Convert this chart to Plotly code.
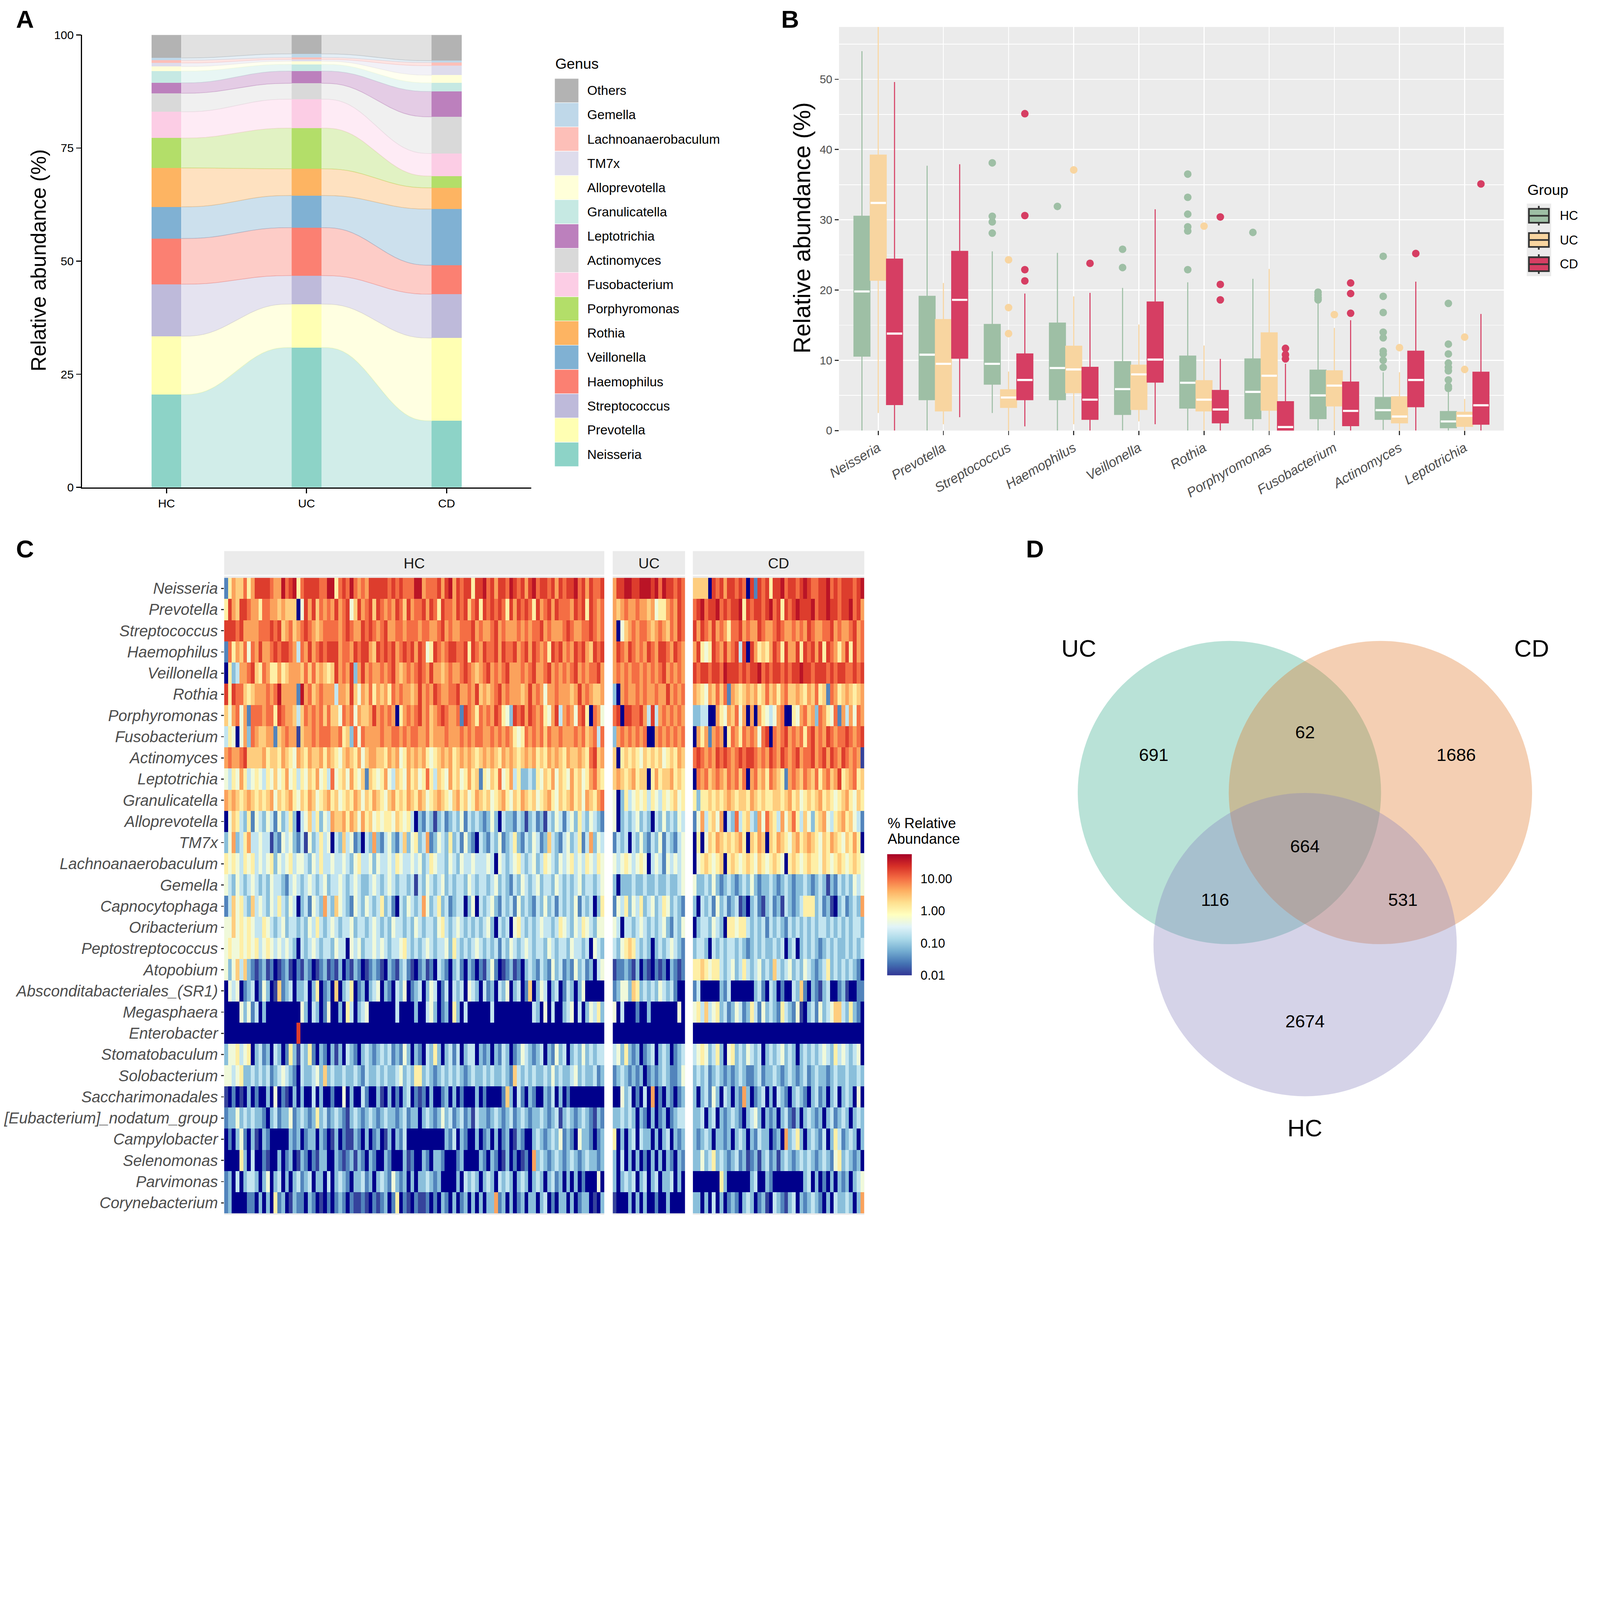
import numpy as np
import plotly.graph_objects as go

W, H = 7607, 5851
FONT = "Liberation Sans, Arial, Helvetica, sans-serif"
NAVY = "#00008B"


def fx(x):
    return x / W


def fy(y):
    return 1 - y / H


def rgba(hex_color, alpha):
    h = hex_color.lstrip("#")
    return f"rgba({int(h[0:2], 16)},{int(h[2:4], 16)},{int(h[4:6], 16)},{alpha})"


# ---------------- panel A : mean relative abundance per group ----------------
groups = ["HC", "UC", "CD"]
genera_a = ["Neisseria", "Prevotella", "Streptococcus", "Haemophilus", "Veillonella",
            "Rothia", "Porphyromonas", "Fusobacterium", "Actinomyces", "Leptotrichia",
            "Granulicatella", "Alloprevotella", "TM7x", "Lachnoanaerobaculum", "Gemella", "Others"]
abund_hc = [20.5, 12.9, 11.5, 10.1, 7.0, 8.6, 6.6, 5.8, 4.1, 2.3, 2.6, 1.0, 0.8, 0.6, 0.5, 5.1]
abund_uc = [30.9, 9.6, 6.3, 10.6, 7.1, 5.9, 9.0, 6.4, 3.5, 2.7, 1.5, 0.7, 0.4, 0.4, 0.8, 4.2]
abund_cd = [14.7, 18.3, 9.7, 6.4, 12.4, 4.7, 2.6, 5.0, 8.1, 5.6, 1.9, 1.7, 2.1, 0.7, 0.4, 5.7]
colors_a = ["#8DD3C7", "#FFFFB3", "#BEBADA", "#FB8072", "#80B1D3", "#FDB462", "#B3DE69",
            "#FCCDE5", "#D9D9D9", "#BC80BD", "#C6E9E3", "#FFFFD9", "#DEDCEC", "#FDBFB8",
            "#BFD8E9", "#B3B3B3"]

# ---------------- panel B : boxplots of top 10 genera ----------------
genera_b = ["Neisseria", "Prevotella", "Streptococcus", "Haemophilus", "Veillonella",
            "Rothia", "Porphyromonas", "Fusobacterium", "Actinomyces", "Leptotrichia"]
colors_b = {"HC": "#9EBFA5", "UC": "#F8D5A0", "CD": "#D63E63"}

q1_hc = [10.6, 4.4, 6.6, 4.4, 2.3, 3.2, 1.7, 1.7, 1.6, 0.4]
med_hc = [19.8, 10.8, 9.5, 8.9, 5.9, 6.8, 5.5, 5.0, 2.9, 1.3]
q3_hc = [30.5, 19.1, 15.1, 15.3, 9.8, 10.6, 10.2, 8.6, 4.7, 2.7]
lo_hc = [0.0, 0.0, 2.5, 0.0, 0.0, 0.0, 0.0, 0.0, 0.1, 0.0]
hi_hc = [54.0, 37.7, 25.5, 25.3, 20.3, 21.1, 21.6, 18.2, 8.3, 5.8]
out_hc = [[], [], [38.1, 30.5, 29.7, 28.1], [31.9], [25.8, 23.2],
          [36.5, 33.2, 30.8, 29.0, 28.4, 22.9], [28.2], [19.7, 19.3, 18.9, 18.6],
          [24.8, 19.1, 16.8, 14.0, 13.2, 11.3, 10.9, 10.0, 9.0],
          [18.1, 12.3, 10.9, 9.6, 9.0, 8.5, 7.2, 6.3, 6.0]]

q1_uc = [21.4, 2.8, 3.3, 5.4, 3.0, 2.8, 2.9, 3.5, 1.1, 0.6]
med_uc = [32.4, 9.5, 4.7, 8.7, 8.0, 4.4, 7.8, 6.4, 2.0, 2.1]
q3_uc = [39.2, 15.8, 5.8, 12.0, 9.3, 7.1, 13.9, 8.5, 4.8, 2.6]
lo_uc = [2.5, 0.9, 0.0, 0.9, 1.3, 0.0, 0.0, 0.0, 0.0, 0.0]
hi_uc = [57.45, 21.0, 8.4, 19.1, 15.1, 12.1, 23.0, 14.6, 8.3, 4.5]
out_uc = [[], [], [24.3, 17.5, 13.8], [37.1], [], [29.1], [], [16.5], [11.8], [13.3, 8.7]]

q1_cd = [3.7, 10.3, 4.4, 1.6, 6.9, 1.1, 0.0, 0.7, 3.4, 0.9]
med_cd = [13.8, 18.6, 7.2, 4.4, 10.1, 3.0, 0.5, 2.8, 7.2, 3.6]
q3_cd = [24.4, 25.5, 10.9, 9.0, 18.3, 5.7, 4.1, 6.9, 11.3, 8.3]
lo_cd = [0.0, 1.9, 0.6, 0.0, 0.9, 0.0, 0.0, 0.0, 0.0, 0.0]
hi_cd = [49.6, 37.9, 19.5, 19.6, 31.5, 10.2, 9.5, 15.7, 21.2, 16.6]
out_cd = [[], [], [45.1, 30.6, 22.9, 21.3], [23.8], [], [30.4, 20.8, 18.6],
          [11.7, 10.8, 10.2], [21.0, 19.5, 16.7], [25.2], [35.1]]

# ---------------- panel C : per-sample heatmap ----------------
heat_genera = ["Neisseria", "Prevotella", "Streptococcus", "Haemophilus", "Veillonella",
               "Rothia", "Porphyromonas", "Fusobacterium", "Actinomyces", "Leptotrichia",
               "Granulicatella", "Alloprevotella", "TM7x", "Lachnoanaerobaculum", "Gemella",
               "Capnocytophaga", "Oribacterium", "Peptostreptococcus", "Atopobium",
               "Absconditabacteriales_(SR1)", "Megasphaera", "Enterobacter", "Stomatobaculum",
               "Solobacterium", "Saccharimonadales", "[Eubacterium]_nodatum_group",
               "Campylobacter", "Selenomonas", "Parvimonas", "Corynebacterium"]
# each character is one sample, read as an abundance level (% relative abundance)
level_value = {"0": 0.0, "1": 0.012, "2": 0.03, "3": 0.08, "4": 0.2, "5": 0.5, "6": 1.2,
               "7": 2.5, "8": 5.0, "9": 10.0, "a": 20.0, "b": 40.0}

heat_hc = [
    "26877968aa aa988b9ab6 9aaaa99bb6 9a9b9898aa aaa9a9a999 bb8999a8ab 8a9aa6aab9 a8aa9ba9a8 ab9aa9a8a9 aab9a8a99a",
    "6a87aa9886 9988787770 5a8a79898a 89a57a89a7 a9898a97a8 99a8a96a99 8a9a79a6a9 a9a96a8a9a 96a89a8a99 98a9a6a989",
    "aaa9a88889 99a9a78978 9a98789999 89a988a9a9 89a8899899 9899889a89 88999a8988 9a89888989 899a898889 a98899a989",
    "296879598a 889a9aa984 98a89a9aaa 8998a9aa87 a9a9a89a9a 8a956a989a a99a6a98a9 9a8a99a89a 8a9896a9a8 98a9a87a9a",
    "0634889a76 9866867888 797978767a 898a38a898 8989a87898 9a98a88789 889a98789a 8989a88898 9a889a8989 89a89899a8",
    "a6a9976788 8989b88882 b897898884 887a758796 8786989887 8a898a9889 9a8898a787 89a8988878 a898588988 878a898778",
    "7589582999 8996a98874 7989897977 598958778a 8989806898 9a89789a98 892a986989 8a9653a9a8 a989658a48 9859a60985",
    "4650583987 7882789881 7889899988 9673959888 8988998989 9889788898 8898989988 9898986569 8989798898 8898978949",
    "89889a7777 8677687658 7687786876 5787685788 7768785687 8786567878 6787876787 8768787678 7867687876 8778769a78",
    "5465864565 4657568564 6576856495 6758657276 5685476586 7569647658 6756867265 7695684633 4365768576 5867568976",
    "8787678767 6785767865 7687567867 5676875768 7657867687 6875678765 7867568767 5678657687 6756786576 7867587689",
    "0576436254 3542534630 4574635487 7868758675 6566576564 0324313423 4352434323 5304332431 3423143542 4536435432",
    "3583468445 4413254532 4153464504 3745230438 3245324735 6348235436 3425320432 4352346324 3542374324 5346248354",
    "6565465645 4563545645 5435464454 4543564453 5445465445 4534654435 4354454445 4054345643 4534654354 5645465465",
    "5435434543 4354432454 3454345344 5434543345 4345434434 1435434534 3443543443 4534324354 3453443543 4345344345",
    "2475643745 4354643540 3425438437 5432543543 4634204354 3485346342 3440350434 5324342534 3243534243 4352434036",
    "5575656544 6543453443 4354643454 3445344345 4343544343 5434435643 4543434345 3043405643 4345443465 4354654355",
    "5655656564 5654545430 4345434435 4405453445 4543445643 4345434453 6434345434 3424354345 4344354344 3544340543",
    "5357473212 3120123102 1320123121 3021320123 2103213421 0231204320 3420320213 5201231203 4324325342 3253423045",
    "0545023402 5301723403 3403602307 0346023034 5032043502 3403540240 4340543042 3043503402 7035403402 4303500000",
    "0000535240 3000000000 5304302500 3064034500 0000040000 3004530230 6304000000 4000000000 0430504003 4504035463",
    "0000000000 000000000a 0000000000 0000000000 0000000000 0000000000 0000000000 0000000000 0000000000 0000000000",
    "3556456034 2304302631 4362032031 3043203432 3434232530 3204363034 2403440323 0324302354 3234032534 0343534344",
    "5545633434 3423454320 4334537343 3433432433 4343345343 6634323434 3432343343 4334327434 3433435343 3453433423",
    "1020103020 0305021030 3004030020 0503004200 3103020340 2120300230 3020003020 0002730420 3200324030 2000000000",
    "2335343433 2034233523 4323634234 3213432343 2343323423 3034323534 2342314332 3432342343 2334323413 4323432132",
    "0203520310 3200000323 0233032013 0211320302 3013032400 0000000032 4032003023 0302301320 0343234352 3205332023",
    "0000630400 2100302301 3202133003 2123132032 0032000312 0032033200 0230000320 3201302012 0834323432 3432343323",
    "2304034430 3503403034 2340330403 4320334230 3432532303 0334323000 0304343034 3043430343 0343034230 3030200050",
    "2300002203 0306230132 2032010202 3202112102 1230260210 2112020320 3023030303 3823030230 3303402033 0302330103",
]
heat_uc = [
    "8aabbaabbb ab9baa9a9", "8789889887 8566898a9", "8057898998 7898798a9", "8a98a9898a 98aa98a98",
    "8989899898 989a89898", "3089889898 8988a8989", "9a0aa99a84 a48989898", "3898989890 089898989",
    "7067676576 767567687", "7876786770 686778676", "5036456564 654656756", "5034345343 043534354",
    "2434043532 435243245", "5456545650 454254545", "3033343343 343343345", "2546354634 534653432",
    "5404434543 434532435", "4356764343 034345432", "1223213021 021203212", "2355376343 435434200",
    "5040002003 000000050", "0000000000 000000000", "4536323023 403430234", "2343232302 323432235",
    "0053402040 802032023", "3343430320 302302344", "6030340433 030340323", "3040303020 303032032",
    "3034340340 340334030", "1000303030 020030000",
]
heat_cd = [
    "77770a9a8a a9a90a2a9a 6aab9aa9ab a99aab9a9a aa9ab",
    "9ab9aab9a9 aab6a9aa9a b9a6a9abaa ab9aabaa9a ab9a8",
    "a8a98a8986 99a8988a98 89a9889898 a98899a898 89a89",
    "8a656a98a8 9a4a0a8676 8a96a88a6a 9a8a6a9868 a6a89",
    "a9aa9aa9ba aa9a9aab9a 9aa9a9aaba a9aaa9a9aa 99a9a",
    "8765879792 8767878679 7868977876 8796729867 87678",
    "3344008658 7958080865 4589006589 7839865928 48598",
    "0868289806 986989859a 0989a89896 9a898a9899 a989a",
    "9a9898a9a9 89a9aa9898 a98a989a89 9a89a8a98a 98981",
    "0989789879 8979089786 9876289879 87968978a6 78967",
    "6366767678 7677687676 6776786756 7678676567 86576",
    "2584675804 3946743859 7648579647 5367854678 67542",
    "0605768767 6786076870 7687657867 8765768765 76860",
    "0567656706 7656765765 6765067656 7665765676 56765",
    "5334353234 3234353233 4323432334 3234313243 43545",
    "3043425342 3412034213 4231432346 6634231034 23438",
    "0344354306 6566434342 4343243434 3434434343 43443",
    "3443043434 4343234343 3434034034 3432343433 43434",
    "6676566434 5346434534 3743453435 4323463434 34320",
    "2400000324 0000003420 4302004372 0321340023 10022",
    "5647456342 3542364253 4326432510 3425345774 36320",
    "0000000000 0000000000 0000000000 0000000000 00000",
    "4565346305 6343543403 4345343034 3434543645 43450",
    "3434234323 2343223423 3432343234 2343323433 43343",
    "3034253043 0328302340 3043203432 0342303403 43050",
    "3340340323 4320345303 2303421303 4323034234 30343",
    "3234303323 0343032433 0230834630 3432403642 34303",
    "3353463432 3423123134 2313432343 4323432563 43230",
    "0000000630 0000034003 2000000003 4030203032 30345",
    "3303040302 3203430231 0432134032 3432030433 43038",
]
heat_scale = ["#313695", "#4575B4", "#74ADD1", "#ABD9E9", "#E0F3F8", "#FFFFBF",
              "#FEE090", "#FDAE61", "#F46D43", "#D73027", "#A50026"]
heat_ticks = [-2, -1, 0, 1]
heat_ticktext = ["0.01", "0.10", "1.00", "10.00"]
HEAT_MIN, HEAT_MAX = -2, 1.76

# ---------------- panel D : Venn diagram of ASVs ----------------
venn_sets = ["UC", "CD", "HC"]
venn_regions = ["UC only", "UC & CD", "CD only", "all", "UC & HC", "CD & HC", "HC only"]
venn_counts = [691, 62, 1686, 664, 116, 531, 2674]

# ============================================================================
fig = go.Figure()
ann = []
shapes = []


def text(x, y, s, size, color="black", xanchor="center", yanchor="middle", angle=0):
    ann.append(dict(x=fx(x), y=fy(y), xref="paper", yref="paper", text=s, showarrow=False,
                    xanchor=xanchor, yanchor=yanchor, textangle=angle,
                    font=dict(family=FONT, size=size, color=color)))


def rect(x0, y0, x1, y1, fill, line_color=None, line_width=0, layer="above"):
    shapes.append(dict(type="rect", xref="paper", yref="paper", x0=fx(x0), x1=fx(x1),
                       y0=fy(y1), y1=fy(y0), fillcolor=fill, layer=layer,
                       line=dict(color=line_color or fill, width=line_width)))


def seg(x0, y0, x1, y1, color, width):
    shapes.append(dict(type="line", xref="paper", yref="paper", x0=fx(x0), x1=fx(x1),
                       y0=fy(y0), y1=fy(y1), line=dict(color=color, width=width)))


# ---- panel A: alluvial flows + stacked bars
abund = [np.array(abund_hc), np.array(abund_uc), np.array(abund_cd)]
tops = [np.cumsum(a) for a in abund]
bots = [t - a for t, a in zip(tops, abund)]
BW = 0.213
tt = np.linspace(0, 1, 90)
ss = tt ** 3 * (tt * (6 * tt - 15) + 10)
for k, name in enumerate(genera_a):
    for j in range(2):
        xa, xb = j + 1 + BW / 2, j + 2 - BW / 2
        xs = xa + (xb - xa) * tt
        lo = bots[j][k] + (bots[j + 1][k] - bots[j][k]) * ss
        hi = tops[j][k] + (tops[j + 1][k] - tops[j][k]) * ss
        fig.add_trace(go.Scatter(
            x=np.concatenate([xs, xs[::-1]]), y=np.concatenate([lo, hi[::-1]]),
            mode="lines", fill="toself", fillcolor=rgba(colors_a[k], 0.4),
            line=dict(color=rgba(colors_a[k], 0.45), width=3),
            xaxis="x", yaxis="y", hoverinfo="skip", showlegend=False))
for k, name in enumerate(genera_a):
    fig.add_trace(go.Bar(x=[1, 2, 3], y=[abund[0][k], abund[1][k], abund[2][k]], width=BW,
                         marker=dict(color=colors_a[k], line=dict(width=0)),
                         xaxis="x", yaxis="y", hoverinfo="skip", showlegend=False, name=name))

# legend A (drawn by hand to keep ggplot-sized keys)
text(2638, 302, "Genus", 70, xanchor="left")
for i, k in enumerate(range(len(genera_a) - 1, -1, -1)):
    top = 373 + i * 115.3
    rect(2637, top, 2751, top + 115.3, colors_a[k], "white", 2)
    text(2790, top + 57.6, genera_a[k], 62, xanchor="left")

text(184, 1238, "Relative abundance (%)", 99, angle=-90)

# ---- panel B: boxplots
box_sets = {
    "HC": (q1_hc, med_hc, q3_hc, lo_hc, hi_hc, out_hc, -0.25),
    "UC": (q1_uc, med_uc, q3_uc, lo_uc, hi_uc, out_uc, 0.0),
    "CD": (q1_cd, med_cd, q3_cd, lo_cd, hi_cd, out_cd, 0.25),
}
for g, (q1, med, q3, lo, hi, outs, off) in box_sets.items():
    pos = [i + 1 + off for i in range(len(genera_b))]
    col = colors_b[g]
    fig.add_trace(go.Box(x=pos, q1=q1, median=med, q3=q3, lowerfence=lo, upperfence=hi,
                         width=0.245, fillcolor=col, line=dict(color=col, width=5),
                         whiskerwidth=0, boxpoints=False, xaxis="x2", yaxis="y2",
                         hoverinfo="skip", showlegend=False, name=g))
    mx, my = [], []
    for p, m in zip(pos, med):
        mx += [p - 0.118, p + 0.118, None]
        my += [m, m, None]
    fig.add_trace(go.Scatter(x=mx, y=my, mode="lines", line=dict(color="white", width=10),
                             xaxis="x2", yaxis="y2", hoverinfo="skip", showlegend=False))
    ox, oy = [], []
    for p, vals in zip(pos, outs):
        ox += [p] * len(vals)
        oy += vals
    fig.add_trace(go.Scatter(x=ox, y=oy, mode="markers",
                             marker=dict(color=col, size=36, line=dict(width=0)),
                             xaxis="x2", yaxis="y2", hoverinfo="skip", showlegend=False))

shapes.append(dict(type="rect", xref="x2 domain", yref="y2 domain", x0=0, x1=1, y0=0, y1=1,
                   fillcolor="#EBEBEB", line=dict(width=0), layer="below"))
text(3812, 1084, "Relative abundance (%)", 112, angle=-90)

# legend B
text(7260, 902, "Group", 70, xanchor="left")
rect(7259, 968, 7375, 1313, "#EBEBEB")
for j, g in enumerate(groups):
    top = 968 + j * 115
    seg(7316, top + 11, 7316, top + 104, "#333333", 8)
    rect(7269, top + 25, 7364, top + 91, colors_b[g], "#333333", 8)
    seg(7269, top + 58, 7364, top + 58, "#333333", 8)
    text(7414, top + 58, g, 60, xanchor="left")

# ---- panel C: heatmap (three facets)
def decode(rows, n):
    out = []
    for i, r in enumerate(rows):
        r = r.replace(" ", "")
        if len(r) != n:
            raise ValueError(f"heatmap row {i} has {len(r)} cells, expected {n}")
        out.append([level_value[c] for c in r])
    return np.array(out)


facets = [("HC", heat_hc, 100, "x3", 1066, 2873),
          ("UC", heat_uc, 19, "x4", 2913, 3257),
          ("CD", heat_cd, 45, "x5", 3294, 4109)]
rows_idx = list(range(len(heat_genera)))
for g, rows, n, xa, x0, x1 in facets:
    vals = decode(rows, n)
    zero = np.where(vals == 0, 1.0, np.nan)
    z = np.where(vals > 0, np.log10(np.where(vals > 0, vals, 1.0)), np.nan)
    fig.add_trace(go.Heatmap(z=zero, x=list(range(n)), y=rows_idx, zmin=0, zmax=1,
                             colorscale=[[0, NAVY], [1, NAVY]], showscale=False,
                             xaxis=xa, yaxis="y3", hoverinfo="skip"))
    fig.add_trace(go.Heatmap(z=z, x=list(range(n)), y=rows_idx, coloraxis="coloraxis",
                             xaxis=xa, yaxis="y3", hoverinfo="skip"))
    rect(x0, 2738, x1, 5776, "#EBEBEB", layer="below")
    rect(x0, 2620, x1, 2733, "#EBEBEB")
    text((x0 + x1) / 2, 2678, g, 70, color="#1A1A1A")

# colour bar: title and the white ggplot-style ticks drawn on top of the bar
CB_X0, CB_X1, CB_TOP, CB_BOT = 4218, 4335, 4061, 4637
text(CB_X0, 3913, "% Relative", 68, xanchor="left")
text(CB_X0, 3987, "Abundance", 68, xanchor="left")
for v in heat_ticks:
    yy = CB_BOT - (v - HEAT_MIN) / (HEAT_MAX - HEAT_MIN) * (CB_BOT - CB_TOP)
    seg(CB_X0, yy, CB_X0 + 23, yy, "white", 3)
    seg(CB_X1 - 23, yy, CB_X1, yy, "white", 3)

# ---- panel D: Venn
R = 721
venn_centres = {"UC": (5845, 3768), "CD": (6563, 3768), "HC": (6205, 4491)}
venn_fill = {"UC": "rgba(54,171,140,0.35)", "CD": "rgba(223,117,37,0.35)",
             "HC": "rgba(134,129,189,0.35)"}
for s in venn_sets:
    cx, cy = venn_centres[s]
    shapes.append(dict(type="circle", xref="paper", yref="paper",
                       x0=fx(cx - R), x1=fx(cx + R), y0=fy(cy + R), y1=fy(cy - R),
                       fillcolor=venn_fill[s], line=dict(width=0), layer="above"))
venn_label_pos = {"UC": (5129, 3082), "CD": (7282, 3082), "HC": (6204, 5362)}
for s in venn_sets:
    text(*venn_label_pos[s], s, 115)
region_pos = [(5485, 3589), (6204, 3482), (6923, 3589), (6204, 4023),
              (5777, 4278), (6670, 4278), (6204, 4855)]
for (x, y), c in zip(region_pos, venn_counts):
    text(x, y, str(c), 84)

# panel letters
for letter, (x, y) in {"A": (118, 90), "B": (3756, 90), "C": (118, 2610), "D": (4920, 2610)}.items():
    text(x, y, f"<b>{letter}</b>", 118)

# ---------------- axes ----------------
axis_a = dict(showline=True, linecolor="black", linewidth=6, ticks="outside", ticklen=22,
              tickwidth=5, tickcolor="black", showgrid=False, zeroline=False, automargin=False,
              tickfont=dict(family=FONT, size=56, color="black"), fixedrange=True)
axis_b = dict(showline=False, ticks="outside", ticklen=20, tickwidth=5, tickcolor="#333333",
              showgrid=True, gridcolor="white", gridwidth=5, zeroline=False, automargin=False,
              fixedrange=True)
hidden = dict(visible=False, showgrid=False, zeroline=False, fixedrange=True, automargin=False)

fig.update_layout(
    width=W, height=H, margin=dict(l=0, r=0, t=0, b=0, autoexpand=False),
    paper_bgcolor="white", plot_bgcolor="white",
    barmode="stack", boxmode="overlay", showlegend=False,
    font=dict(family=FONT, color="black"),
    xaxis=dict(domain=[fx(390), fx(2525)], range=[0.397, 3.603], anchor="y",
               tickvals=[1, 2, 3], ticktext=groups, **axis_a),
    yaxis=dict(domain=[fy(2317), fy(166)], range=[0, 100], anchor="x",
               tickvals=[0, 25, 50, 75, 100], **axis_a),
    xaxis2=dict(domain=[fx(3989), fx(7150)], range=[0.398, 10.602], anchor="y2",
                tickvals=list(range(1, 11)), ticktext=[f"<i>{g}</i>" for g in genera_b],
                tickangle=-30, tickfont=dict(family=FONT, size=64, color="#4D4D4D"), **axis_b),
    yaxis2=dict(domain=[fy(2047), fy(128)], range=[0, 57.45], anchor="x2",
                tickvals=[0, 10, 20, 30, 40, 50],
                tickfont=dict(family=FONT, size=54, color="#4D4D4D"),
                minor=dict(tick0=0, dtick=5, showgrid=True, gridcolor="white", gridwidth=2.5,
                           ticks=""), **axis_b),
    xaxis3=dict(domain=[fx(1066), fx(2873)], range=[-0.5, 99.5], anchor="y3", **hidden),
    xaxis4=dict(domain=[fx(2913), fx(3257)], range=[-0.5, 18.5], anchor="y3", **hidden),
    xaxis5=dict(domain=[fx(3294), fx(4109)], range=[-0.5, 44.5], anchor="y3", **hidden),
    yaxis3=dict(domain=[fy(5769), fy(2747)], range=[len(heat_genera) - 0.5, -0.5], anchor="x3",
                tickvals=rows_idx, ticktext=[f"<i>{g}</i>" for g in heat_genera],
                ticks="outside", ticklen=14, tickwidth=5, tickcolor="#333333",
                tickfont=dict(family=FONT, size=74, color="#4D4D4D"), automargin=False,
                showgrid=False, zeroline=False, showline=False, fixedrange=True),
    coloraxis=dict(
        colorscale=[[i / 10, c] for i, c in enumerate(heat_scale)], cmin=HEAT_MIN, cmax=HEAT_MAX,
        colorbar=dict(x=fx(CB_X0), xanchor="left", y=fy((CB_TOP + CB_BOT) / 2), yanchor="middle",
                      len=CB_BOT - CB_TOP, lenmode="pixels", thickness=CB_X1 - CB_X0,
                      thicknessmode="pixels", xpad=0, ypad=0, outlinewidth=0,
                      tickvals=heat_ticks, ticktext=heat_ticktext,
                      ticks="outside", ticklen=30, tickcolor="rgba(0,0,0,0)",
                      tickfont=dict(family=FONT, size=60, color="black"))),
    annotations=ann,
    shapes=shapes,
)

# the page may be shown in a viewport smaller than the figure: scale it down to fit
fit_js = f"""
var gd = document.getElementById('{{plot_id}}');
var s = Math.min(1, window.innerWidth / {W}, window.innerHeight / {H});
document.body.style.margin = '0';
gd.style.transformOrigin = '0 0';
gd.style.transform = 'scale(' + s + ')';
gd.parentElement.style.width = ({W} * s) + 'px';
gd.parentElement.style.height = ({H} * s) + 'px';
gd.parentElement.style.overflow = 'hidden';
"""

fig.write_html("out.html", post_script=fit_js, config={"displayModeBar": False})
